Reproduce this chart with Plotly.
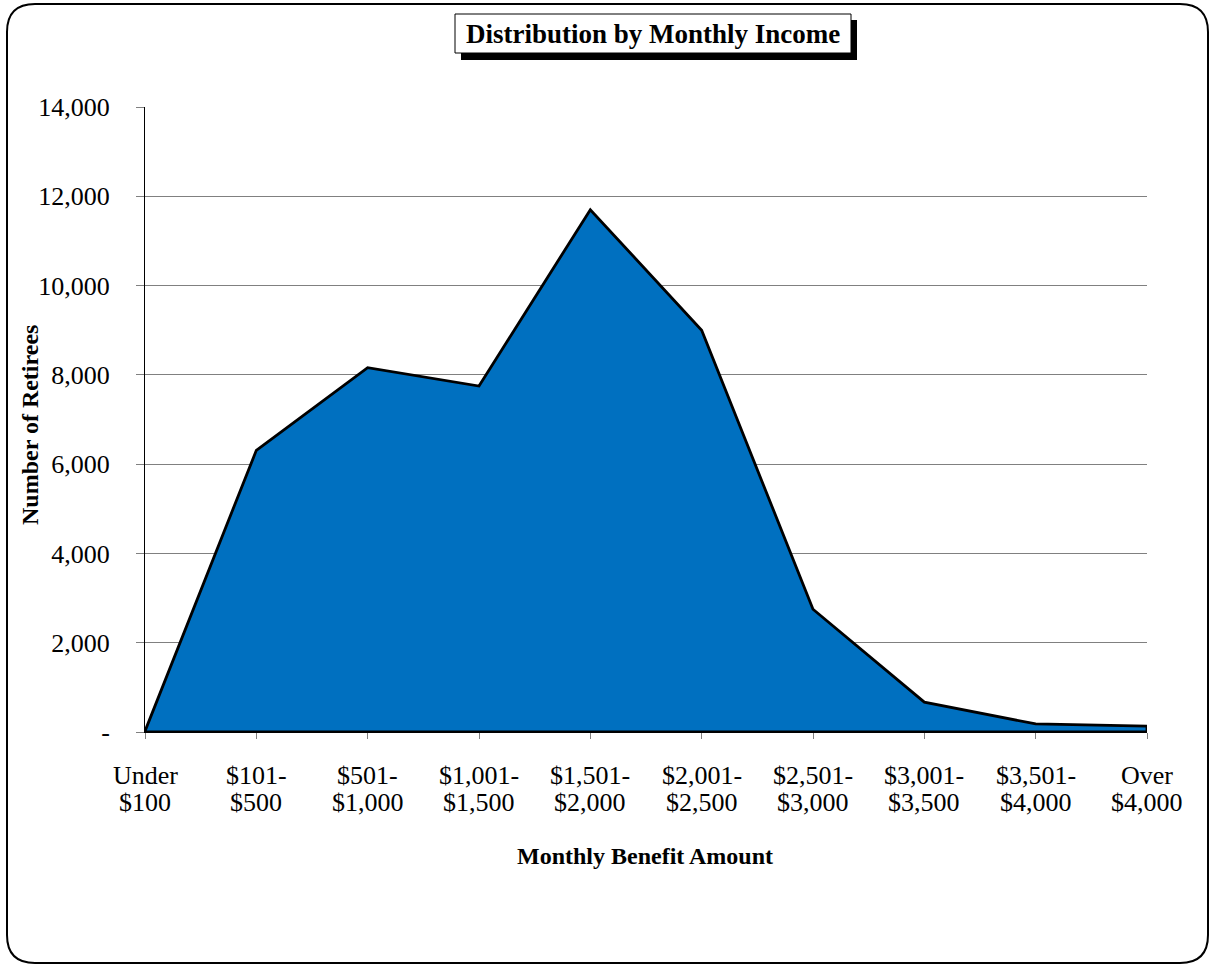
import plotly.graph_objects as go

# ---- data ----
cat_line1 = ["Under", "$101-", "$501-", "$1,001-", "$1,501-", "$2,001-", "$2,501-",
             "$3,001-", "$3,501-", "Over"]
cat_line2 = ["$100", "$500", "$1,000", "$1,500", "$2,000", "$2,500", "$3,000",
             "$3,500", "$4,000", "$4,000"]
retirees = [20, 6310, 8160, 7750, 11700, 9000, 2750, 670, 180, 130]
y_tickvals = [0, 2000, 4000, 6000, 8000, 10000, 12000, 14000]
y_ticktext = ["-", "2,000", "4,000", "6,000", "8,000", "10,000", "12,000", "14,000"]

title_text = "Distribution by Monthly Income"
x_title = "Monthly Benefit Amount"
y_title = "Number of Retirees"

# ---- layout geometry (page pixels; body margin removed below) ----
W, H = 1211, 966
PX0, PX1, PY0, PY1 = 145, 1147, 107, 732   # plot area
L, T = PX0, PY0
R, B = W - PX1, H - PY1
PW, PH = PX1 - PX0, PY1 - PY0
FONT = "Times New Roman, Liberation Serif, serif"


def px(x):
    return (x - PX0) / PW


def py(y):
    return (PY1 - y) / PH


idx = list(range(len(retirees)))
xs = idx + [idx[-1], idx[0]]
ys = retirees + [0, 0]

fig = go.Figure()
fig.add_trace(go.Scatter(
    x=xs, y=ys, mode="lines", fill="toself", fillcolor="#0070C0",
    line=dict(color="black", width=2.8), hoverinfo="skip", showlegend=False,
))

# rounded frame
x0, y0, x1, y1, r = 7, 4, 1208, 963, 28
path = (
    f"M {px(x0 + r)},{py(y0)} L {px(x1 - r)},{py(y0)} "
    f"Q {px(x1)},{py(y0)} {px(x1)},{py(y0 + r)} "
    f"L {px(x1)},{py(y1 - r)} Q {px(x1)},{py(y1)} {px(x1 - r)},{py(y1)} "
    f"L {px(x0 + r)},{py(y1)} Q {px(x0)},{py(y1)} {px(x0)},{py(y1 - r)} "
    f"L {px(x0)},{py(y0 + r)} Q {px(x0)},{py(y0)} {px(x0 + r)},{py(y0)} Z"
)
shapes = [
    dict(type="path", xref="paper", yref="paper", path=path,
         line=dict(color="black", width=2), fillcolor="rgba(0,0,0,0)", layer="above"),
    dict(type="rect", xref="paper", yref="paper",
         x0=px(461), x1=px(857), y0=py(60), y1=py(20),
         line=dict(width=0), fillcolor="black", layer="below"),
    dict(type="rect", xref="paper", yref="paper",
         x0=px(455), x1=px(851), y0=py(53), y1=py(14),
         line=dict(color="black", width=1), fillcolor="white", layer="below"),
]

annotations = [
    dict(text=f"<b>{title_text}</b>", xref="paper", yref="paper",
         x=px(653), y=py(34), xanchor="center", yanchor="middle", showarrow=False,
         font=dict(family=FONT, size=27, color="black")),
    dict(text=f"<b>{x_title}</b>", xref="paper", yref="paper",
         x=px(645), y=py(856), xanchor="center", yanchor="middle", showarrow=False,
         font=dict(family=FONT, size=24, color="black")),
    dict(text=f"<b>{y_title}</b>", xref="paper", yref="paper",
         x=px(30), y=py(425), xanchor="center", yanchor="middle", showarrow=False,
         textangle=-90, font=dict(family=FONT, size=24, color="black")),
]
# category labels, two lines, placed on the x axis scale
for i, (a, b) in enumerate(zip(cat_line1, cat_line2)):
    annotations.append(dict(text=a, xref="x", yref="paper", x=i, y=py(775),
                            xanchor="center", yanchor="middle", showarrow=False,
                            font=dict(family=FONT, size=26, color="black")))
    annotations.append(dict(text=b, xref="x", yref="paper", x=i, y=py(802),
                            xanchor="center", yanchor="middle", showarrow=False,
                            font=dict(family=FONT, size=26, color="black")))

fig.update_layout(
    width=W, height=H, autosize=False,
    margin=dict(l=L, r=R, t=T, b=B),
    paper_bgcolor="white", plot_bgcolor="white",
    font=dict(family=FONT, size=26, color="black"),
    shapes=shapes, annotations=annotations,
    xaxis=dict(
        range=[idx[0], idx[-1]], tickmode="array", tickvals=idx, showticklabels=False,
        showgrid=False, zeroline=False, showline=True, linecolor="black", linewidth=1,
        ticks="outside", ticklen=6, tickcolor="#808080", fixedrange=True,
    ),
    yaxis=dict(
        range=[0, 14000], tickmode="array", tickvals=y_tickvals, ticktext=y_ticktext,
        showgrid=True, gridcolor="#808080", gridwidth=1, zeroline=False,
        showline=True, linecolor="black", linewidth=1,
        ticks="outside", ticklen=8, tickcolor="#808080", ticklabelstandoff=21,
        tickfont=dict(family=FONT, size=26, color="black"), fixedrange=True,
    ),
)

fig.write_html(
    "out.html",
    config={"displayModeBar": False, "staticPlot": True},
    post_script="document.body.style.margin='0';document.body.style.overflow='hidden';",
)
